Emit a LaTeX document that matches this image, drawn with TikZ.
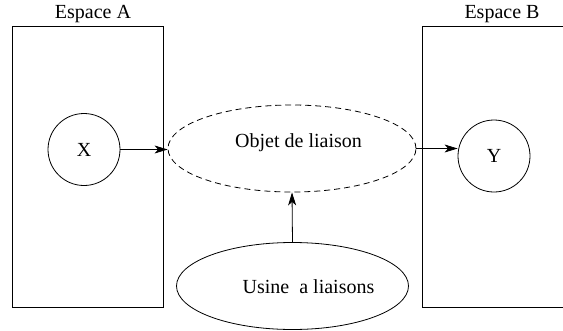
\documentclass[tikz,border=0pt]{standalone}
\usepackage{fontspec}
\setmainfont{Liberation Serif}
\usetikzlibrary{shapes.geometric,arrows.meta}
\begin{document}
\begin{tikzpicture}[x=1pt,y=-1pt,
  every node/.style={font=\fontsize{20}{24}\selectfont, inner sep=0pt},
  space/.style={draw, line width=0.8pt},
  obj/.style={draw, circle, minimum size=72pt, line width=0.8pt},
  link/.style={draw, ellipse, line width=0.8pt},
  conn/.style={line width=0.8pt, -{Stealth[length=13pt,width=8pt,inset=3.5pt]}}]
  \useasboundingbox (0,0) rectangle (563,330);
  \clip (0,0) rectangle (563,330);
  % the two spaces
  \draw[space] (12,26) rectangle (163,307);
  \draw[space] (422,26) rectangle (570,307);
  \node (la) at (93,14) {Espace A};
  \node (lb) at (502,14) {Espace B};
  % objects
  \node[obj] (x) at (84,149.5) {X};
  \node[obj] (y) at (494,156) {Y};
  % link object and factory
  \node[link, dashed, dash pattern=on 6pt off 4pt, minimum width=248pt, minimum height=87pt] (lien) at (292,148.5) {};
  \node (tlien) at (298.5,143) {Objet de liaison};
  \node[link, minimum width=232pt, minimum height=87pt] (usine) at (292.5,286) {};
  \node (tusine) at (308.5,287) {Usine\ \ a liaisons};
  % connectors
  \draw[conn] (x.east) -- (lien.west |- x.east);
  \draw[conn] (lien.east) -- (y.west |- lien.east);
  \draw[conn] (usine.north) -- (lien.south);
\end{tikzpicture}
\end{document}
